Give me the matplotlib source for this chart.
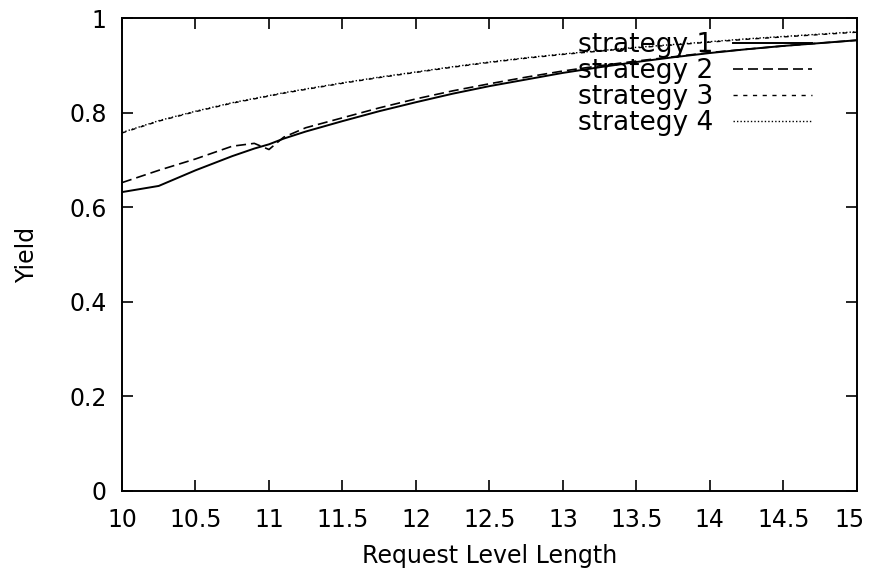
import numpy as np
import matplotlib.pyplot as plt
from matplotlib.transforms import ScaledTranslation

plt.rcParams['font.family'] = ['DejaVu Sans']

# data
x = [10, 10.25, 10.5, 10.75, 10.9, 11, 11.1, 11.25, 11.5, 11.75, 12, 12.25, 12.5,
     12.75, 13, 13.25, 13.5, 13.75, 14, 14.25, 14.5, 14.75, 15]
s1 = [0.632, 0.645, 0.678, 0.708, 0.724, 0.733, 0.745, 0.760, 0.782, 0.803, 0.822,
      0.840, 0.856, 0.870, 0.884, 0.896, 0.907, 0.917, 0.926, 0.934, 0.941, 0.947, 0.953]
s2 = [0.652, 0.678, 0.702, 0.729, 0.735, 0.722, 0.748, 0.768, 0.789, 0.810, 0.829,
      0.846, 0.861, 0.875, 0.888, 0.899, 0.909, 0.918, 0.927, 0.934, 0.941, 0.947, 0.953]
s3 = [0.757, 0.782, 0.802, 0.820, 0.829, 0.835, 0.841, 0.849, 0.862, 0.874, 0.885,
      0.896, 0.906, 0.915, 0.923, 0.930, 0.937, 0.943, 0.949, 0.955, 0.960, 0.965, 0.970]
s4 = [0.758, 0.783, 0.803, 0.821, 0.830, 0.836, 0.842, 0.850, 0.863, 0.875, 0.886,
      0.897, 0.907, 0.916, 0.924, 0.931, 0.938, 0.944, 0.950, 0.956, 0.961, 0.966, 0.971]
labels = ["strategy 1", "strategy 2", "strategy 3", "strategy 4"]
xticks = ["10", "10.5", "11", "11.5", "12", "12.5", "13", "13.5", "14", "14.5", "15"]
yticks = ["0", "0.2", "0.4", "0.6", "0.8", "1"]

fig = plt.figure(figsize=(8.69, 5.74), dpi=100)
ax = fig.add_axes([0.1404, 0.1446, 0.8456, 0.824])

ax.plot(x, s1, color="black", lw=1.4, label=labels[0])
ax.plot(x, s2, color="black", lw=1.2, dashes=(6, 3), label=labels[1])
ax.plot(x, s3, color="black", lw=1.0, dashes=(3, 4), label=labels[2])
ax.plot(x, s4, color="black", lw=1.0, dashes=(1, 1.5), label=labels[3])

ax.set_xlim(10, 15)
ax.set_ylim(0, 1)
ax.set_xticks(np.arange(10, 15.01, 0.5))
ax.set_xticklabels(xticks)
ax.set_yticks([0, 0.2, 0.4, 0.6, 0.8, 1])
ax.set_yticklabels(yticks)
ax.tick_params(direction="in", length=8, width=1.2, top=True, right=True, labelsize=17)
ax.tick_params(axis="x", pad=12)
ax.tick_params(axis="y", pad=11)
for sp in ax.spines.values():
    sp.set_linewidth(1.4)

# last x label sits right on the edge, nudge it in a bit
last = ax.get_xticklabels()[-1]
last.set_transform(last.get_transform() + ScaledTranslation(-5 / 72, 0, fig.dpi_scale_trans))

ax.set_xlabel("Request Level Length", fontsize=17, labelpad=9)
ax.set_ylabel("Yield", fontsize=17, labelpad=22)

ax.legend(loc="upper right", frameon=False, markerfirst=False, fontsize=19,
          handlelength=3.0, handletextpad=0.75, labelspacing=0.0, borderpad=0,
          borderaxespad=0, bbox_to_anchor=(0.939, 0.97))

fig.savefig("out.png", dpi=100)
